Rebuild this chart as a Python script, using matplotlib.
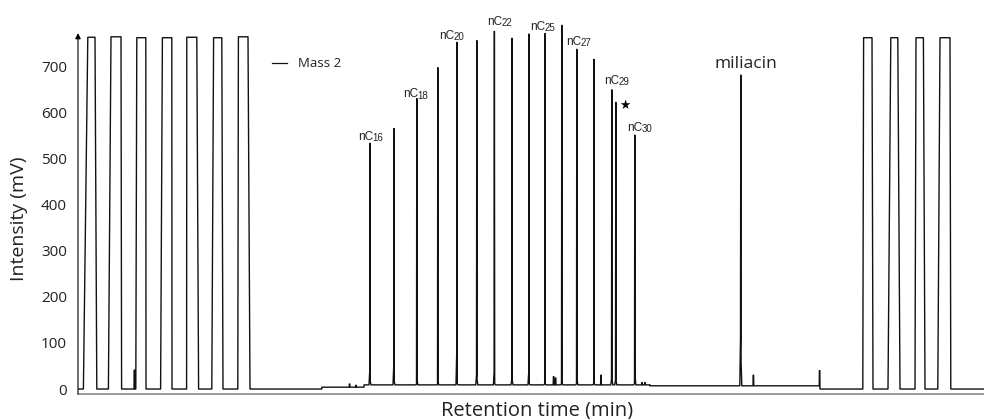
import matplotlib.pyplot as plt

# retention time (min) and intensity (mV)
# Mass 2 calibration pulses
pulse_on_base = [0.27, 1.52, 2.89, 4.13, 5.43, 6.69, 7.99, 39.24, 40.50, 41.85, 42.99]
pulse_on_top = [0.49, 1.65, 2.94, 4.22, 5.44, 6.78, 8.02, 39.28, 40.64, 41.90, 43.10]
pulse_off_top = [0.85, 2.15, 3.39, 4.69, 5.94, 7.19, 8.50, 39.70, 40.99, 42.27, 43.60]
pulse_off_base = [0.94, 2.18, 3.40, 4.70, 6.03, 7.25, 8.60, 39.75, 41.10, 42.35, 43.64]
pulse_top = [763, 764, 762, 762, 763, 762, 764, 762, 762, 762, 762]

# sample peaks (n-alkanes + miliacin)
peak_time = [14.60, 15.80, 16.94, 17.99, 18.95, 19.94, 20.82, 21.70, 22.55,
             23.35, 24.19, 24.94, 25.80, 26.69, 26.89, 27.84, 33.14]
peak_height = [533, 565, 630, 697, 752, 756, 776, 761, 770,
               771, 789, 737, 715, 649, 622, 551, 681]
peak_lfoot = [37, 48, 10, 10, 78, 30, 37, 20, 35, 12, 12, 12, 12, 20, 20, 12, 110]
peak_rfoot = [16, 16, 20, 15, 12, 20, 12, 18, 12, 12, 12, 20, 12, 20, 18, 30, 60]

# small bumps / spikes on the baseline
bump_time = [2.82, 13.58, 13.90, 23.78, 23.88, 26.15, 28.20, 28.35, 33.77, 37.08]
bump_height = [41, 11, 8, 27, 24, 30, 14, 14, 30, 40]

# baseline level changes
base_time = [0.0, 12.19, 14.30, 28.60, 37.10]
base_level = [0, 4, 9, 7, 0]

labels = ["16", "18", "20", "22", "25", "27", "29", "30"]
label_x = [14.02, 16.27, 18.07, 20.48, 22.63, 24.43, 26.30, 27.47]
label_y = [547, 639, 766, 797, 786, 753, 669, 567]


def level(t):
    v = base_level[0]
    for bt, bv in zip(base_time, base_level):
        if t >= bt:
            v = bv
    return v


pieces = []
for i in range(len(pulse_top)):
    pieces.append([(pulse_on_base[i], 0), (pulse_on_top[i], pulse_top[i]),
                   (pulse_off_top[i], pulse_top[i]), (pulse_off_base[i], 0)])
for t, h, lf, rf in zip(peak_time, peak_height, peak_lfoot, peak_rfoot):
    b = level(t)
    pieces.append([(t - 0.05, b), (t - 0.015, lf), (t, h), (t + 0.015, rf), (t + 0.05, b)])
for t, h in zip(bump_time, bump_height):
    b = level(t)
    pieces.append([(t - 0.02, b), (t - 0.01, h), (t + 0.01, h), (t + 0.02, b)])
for i in range(1, len(base_time)):
    pieces.append([(base_time[i], base_level[i - 1]), (base_time[i], base_level[i])])
pieces.sort(key=lambda p: p[0][0])

xs, ys = [0.0], [0]
for p in pieces:
    for x, y in p:
        xs.append(x)
        ys.append(y)
xs.append(45.3)
ys.append(0)

fig = plt.figure(figsize=(9.84, 4.19), dpi=100)
ax = fig.add_axes([78 / 984, 25 / 419, 906 / 984, 394 / 419])
ax.plot(xs, ys, color='#111111', lw=1.0)
ax.set_xlim(0, 45.3)
ax.set_ylim(-10.8, 843.8)

for s in ['top', 'right', 'left']:
    ax.spines[s].set_visible(False)
ax.spines['bottom'].set_color('#8a8a8a')
ax.spines['bottom'].set_linewidth(1.2)
ax.annotate('', xy=(0, 772), xytext=(0, -10.8),
            arrowprops=dict(arrowstyle='-|>', lw=0.8, color='k', mutation_scale=8,
                            shrinkA=0, shrinkB=0), annotation_clip=False)

ax.set_xticks([])
ax.set_yticks(range(0, 800, 100))
ax.tick_params(axis='y', length=0, pad=8, labelsize=11)
for lab in ax.get_yticklabels():
    lab.set_family('Open Sans')
    lab.set_color('#222222')

for lab, x, y in zip(labels, label_x, label_y):
    ax.text(x, y, "nC", fontsize=8.5, family='Liberation Sans', va='center', ha='left', color='#222222')
    ax.annotate(lab, xy=(x, y), xytext=(10.3, -1), textcoords='offset points',
                fontsize=7, family='Liberation Sans', va='center', ha='left', color='#222222')
ax.text(27.35, 616, "★", fontsize=9, family='DejaVu Sans', ha='center', va='center')
ax.text(33.41, 706, "miliacin", fontsize=12.5, family='Open Sans', ha='center', va='center', color='#222222')

ax.plot([9.69, 10.44], [708, 708], color='#111111', lw=0.9)
ax.text(10.99, 707, "Mass 2", fontsize=9.5, family='Open Sans', ha='left', va='center', color='#222222')

fig.text(537 / 984, 1 - 410 / 419, "Retention time (min)", fontsize=14.5, family='Open Sans',
         ha='center', va='center', color='#222222')
fig.text(19 / 984, 1 - 219 / 419, "Intensity (mV)", fontsize=14, family='Open Sans',
         ha='center', va='center', rotation=90, color='#222222')

fig.savefig('out.png', dpi=100)
